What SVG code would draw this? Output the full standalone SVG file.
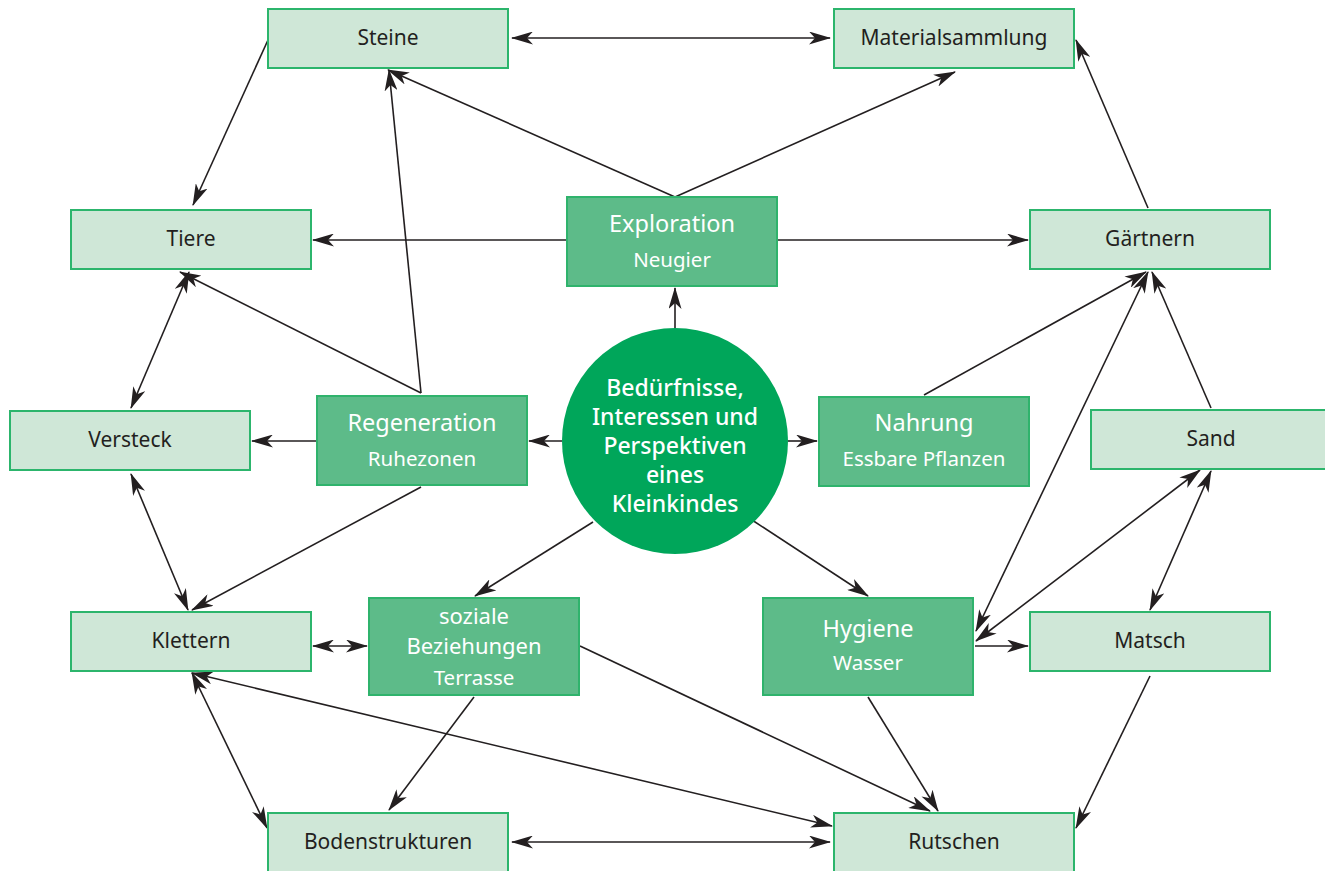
<svg xmlns="http://www.w3.org/2000/svg" width="1325" height="871" viewBox="0 0 1325 871">
<style>
.l rect{fill:#cfe7d7;stroke:#2cb56c;stroke-width:2}
.d rect{fill:#5dbb89;stroke:#2fb36c;stroke-width:2}
.l text{font-family:"Noto Sans","Open Sans",sans-serif;font-size:21px;fill:#231f20;text-anchor:middle}
.d text{font-family:"Noto Sans","Open Sans",sans-serif;font-size:23.5px;fill:#ffffff;text-anchor:middle}
.d text.s{font-size:20.5px}
.d text.m{font-size:22px}
.c text{font-family:"Noto Sans","Open Sans",sans-serif;font-size:23px;font-weight:500;fill:#ffffff;text-anchor:middle}
#edges line{stroke:#231f20;stroke-width:1.6;fill:none}
.a{marker-end:url(#ah)}
.b{marker-end:url(#ah);marker-start:url(#ah)}
</style>
<defs>
<marker id="ah" viewBox="0 0 22 13" markerWidth="22" markerHeight="13" refX="21" refY="6.5" orient="auto-start-reverse" markerUnits="userSpaceOnUse">
<path d="M0,0 L22,6.5 L0,13 L6,6.5 z" fill="#231f20"/>
</marker>
</defs>
<rect width="1325" height="871" fill="#ffffff"/>
<g id="edges">
<line class="b" x1="512" y1="38" x2="830" y2="38"/>
<line class="a" x1="268" y1="40" x2="193" y2="205"/>
<line class="a" x1="1148" y1="208" x2="1076" y2="40"/>
<line class="a" x1="675" y1="197" x2="388" y2="70"/>
<line class="a" x1="675" y1="197" x2="955" y2="72"/>
<line class="a" x1="566" y1="240" x2="313" y2="240"/>
<line class="a" x1="778" y1="240" x2="1028" y2="240"/>
<line class="a" x1="675" y1="328" x2="675" y2="288"/>
<line class="a" x1="562" y1="441" x2="529" y2="441"/>
<line class="a" x1="788" y1="441" x2="817" y2="441"/>
<line class="a" x1="316" y1="441" x2="252" y2="441"/>
<line class="a" x1="421" y1="393" x2="389" y2="70"/>
<line class="a" x1="421" y1="393" x2="180" y2="272"/>
<line class="a" x1="421" y1="487" x2="192" y2="610"/>
<line class="b" x1="189" y1="272" x2="131" y2="408"/>
<line class="b" x1="131" y1="474" x2="188" y2="610"/>
<line class="a" x1="593" y1="522" x2="475" y2="596"/>
<line class="a" x1="752" y1="520" x2="868" y2="596"/>
<line class="b" x1="313" y1="646" x2="367" y2="646"/>
<line class="a" x1="474" y1="697" x2="389" y2="810"/>
<line class="a" x1="580" y1="646" x2="930" y2="811"/>
<line class="b" x1="192" y1="673" x2="832" y2="826"/>
<line class="b" x1="192" y1="673" x2="267" y2="828"/>
<line class="b" x1="512" y1="842" x2="830" y2="842"/>
<line class="a" x1="868" y1="697" x2="938" y2="811"/>
<line class="a" x1="1150" y1="676" x2="1076" y2="828"/>
<line class="a" x1="975" y1="646" x2="1028" y2="646"/>
<line class="a" x1="924" y1="395" x2="1146" y2="272"/>
<line class="b" x1="1148" y1="272" x2="976" y2="631"/>
<line class="a" x1="1211" y1="408" x2="1152" y2="272"/>
<line class="b" x1="1200" y1="470" x2="976" y2="641"/>
<line class="b" x1="1211" y1="471" x2="1150" y2="610"/>
</g>
<g id="steine" class="l"><rect x="268" y="9" width="240" height="59"/><text x="388" y="45">Steine</text></g>
<g id="materialsammlung" class="l"><rect x="834" y="9" width="240" height="59"/><text x="954" y="45">Materialsammlung</text></g>
<g id="tiere" class="l"><rect x="71" y="210" width="240" height="59"/><text x="191" y="246">Tiere</text></g>
<g id="gaertnern" class="l"><rect x="1030" y="210" width="240" height="59"/><text x="1150" y="246">Gärtnern</text></g>
<g id="versteck" class="l"><rect x="10" y="411" width="240" height="59"/><text x="130" y="447">Versteck</text></g>
<g id="sand" class="l"><rect x="1091" y="410" width="240" height="59"/><text x="1211" y="446">Sand</text></g>
<g id="klettern" class="l"><rect x="71" y="612" width="240" height="59"/><text x="191" y="648">Klettern</text></g>
<g id="matsch" class="l"><rect x="1030" y="612" width="240" height="59"/><text x="1150" y="648">Matsch</text></g>
<g id="bodenstrukturen" class="l"><rect x="268" y="813" width="240" height="65"/><text x="388" y="849">Bodenstrukturen</text></g>
<g id="rutschen" class="l"><rect x="834" y="813" width="240" height="65"/><text x="954" y="849">Rutschen</text></g>
<g id="exploration" class="d"><rect x="567" y="197" width="210" height="89"/><text x="672" y="232">Exploration</text><text class="s" x="672" y="267">Neugier</text></g>
<g id="regeneration" class="d"><rect x="317" y="396" width="210" height="89"/><text x="422" y="431">Regeneration</text><text class="s" x="422" y="466">Ruhezonen</text></g>
<g id="nahrung" class="d"><rect x="819" y="397" width="210" height="89"/><text x="924" y="431">Nahrung</text><text class="s" x="924" y="466">Essbare Pflanzen</text></g>
<g id="soziale" class="d"><rect x="369" y="598" width="210" height="97"/><text class="m" x="474" y="624">soziale</text><text class="m" x="474" y="654">Beziehungen</text><text class="s" x="474" y="685">Terrasse</text></g>
<g id="hygiene" class="d"><rect x="763" y="598" width="210" height="97"/><text x="868" y="637">Hygiene</text><text class="s" x="868" y="670">Wasser</text></g>
<g id="center" class="c"><circle cx="675" cy="441" r="113" fill="#00a65a"/><text x="675" y="396">Bedürfnisse,</text><text x="675" y="425">Interessen und</text><text x="675" y="454">Perspektiven</text><text x="675" y="483">eines</text><text x="675" y="512">Kleinkindes</text></g>
</svg>
